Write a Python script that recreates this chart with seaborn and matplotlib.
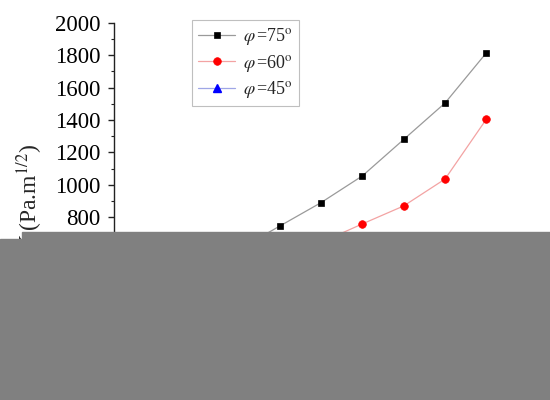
import matplotlib
matplotlib.use("Agg")
import matplotlib.pyplot as plt
import seaborn as sns
import pandas as pd
from matplotlib.lines import Line2D
from matplotlib.patches import Rectangle

# ---------------------------------
# data
# (x positions are ordinal, the x axis itself is hidden)
# ---------------------------------
x_75 = [4, 5, 6, 7, 8, 9, 10]
k_75 = [600, 745, 890, 1055, 1280, 1505, 1815]

x_60 = [6, 7, 8, 9, 10]
k_60 = [645, 759, 870, 1036, 1406]

labels = [r'$\varphi\,$=75$^{\rm o}$', r'$\varphi\,$=60$^{\rm o}$', r'$\varphi\,$=45$^{\rm o}$']
y_ticks = list(range(0, 2001, 200))

df75 = pd.DataFrame({'x': x_75, 'k': k_75})
df60 = pd.DataFrame({'x': x_60, 'k': k_60})

sns.set_style('ticks')
plt.rcParams['font.family'] = ['Liberation Serif', 'DejaVu Serif']
plt.rcParams['mathtext.fontset'] = 'stix'

fig = plt.figure(figsize=(5.5, 4), dpi=100)
ax = fig.add_axes([114 / 550, 1 - 347 / 400, 0.76, (347 - 22.7) / 400])

sns.lineplot(data=df75, x='x', y='k', ax=ax, color='#9a9a9a', lw=0.9,
             marker='s', markersize=5, markerfacecolor='black',
             markeredgecolor='black', markeredgewidth=0.5, label=labels[0])
sns.lineplot(data=df60, x='x', y='k', ax=ax, color='#f3a3a3', lw=0.9,
             marker='o', markersize=5.5, markerfacecolor='red',
             markeredgecolor='red', markeredgewidth=0.5, label=labels[1])

ax.set_xlim(1, 11.1)
ax.set_ylim(0, 2000)
ax.set_yticks(y_ticks)
ax.yaxis.set_minor_locator(matplotlib.ticker.MultipleLocator(100))
ax.tick_params(axis='y', which='major', length=4, width=1, labelsize=16.5, pad=5.5,
               colors='#222222', labelcolor='black')
ax.tick_params(axis='y', which='minor', length=2.2, width=0.8, colors='#222222')
ax.set_xlabel('')
ax.set_ylabel('')
ax.set_xticklabels([])
sns.despine(ax=ax, top=True, right=True)
ax.spines['left'].set_linewidth(1)
ax.spines['left'].set_color('#222222')

# y label, drawn as figure text
fig.text(45 / 550, 1 - 143 / 400, r'$K_{\rm I}$(Pa.m$^{1/2}$)', rotation=90,
         ha='right', va='top', fontsize=17)

# legend
blue_handle = Line2D([], [], color='#9fa6e6', lw=0.9, marker='^', markersize=6,
                     markerfacecolor='blue', markeredgecolor='blue')
handles, _ = ax.get_legend_handles_labels()
leg = ax.legend(handles + [blue_handle], labels, loc='upper left',
                bbox_to_anchor=(192 / 550, 1 - 20 / 400), bbox_transform=fig.transFigure,
                fontsize=13, frameon=True, fancybox=False, edgecolor='#b0b0b0',
                handlelength=2.05, handletextpad=0.4, labelspacing=0.3,
                borderpad=0.35, borderaxespad=0)
leg.get_frame().set_linewidth(0.8)

# gray block that covers the lower part of the picture
fig.add_artist(Rectangle((22 / 550, 0), 1 - 22 / 550, 1 - 232 / 400,
                         transform=fig.transFigure, color='#808080', zorder=20))
fig.add_artist(Rectangle((0, 0), 22 / 550, 1 - 239 / 400,
                         transform=fig.transFigure, color='#808080', zorder=20))

fig.savefig('out.png', dpi=100)
